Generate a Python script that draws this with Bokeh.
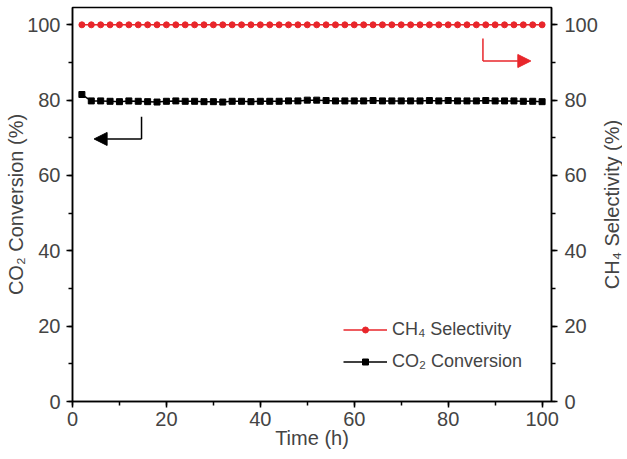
from bokeh.plotting import figure
from bokeh.layouts import row
from bokeh.models import (Range1d, LinearAxis, SingleIntervalTicker, FixedTicker, Arrow, NormalHead,
                          ColumnDataSource, Legend)
from bokeh.embed import file_html
from bokeh.resources import INLINE

# ---- data ----
time_h = [2, 4, 6, 8, 10, 12, 14, 16, 18, 20,
          22, 24, 26, 28, 30, 32, 34, 36, 38, 40,
          42, 44, 46, 48, 50, 52, 54, 56, 58, 60,
          62, 64, 66, 68, 70, 72, 74, 76, 78, 80,
          82, 84, 86, 88, 90, 92, 94, 96, 98, 100]
co2_conversion = [81.5, 79.8, 79.8, 79.7, 79.6, 79.8, 79.7, 79.6, 79.5, 79.7,
                  79.8, 79.7, 79.7, 79.6, 79.6, 79.5, 79.7, 79.7, 79.6, 79.7,
                  79.7, 79.7, 79.8, 79.8, 80.0, 80.0, 79.9, 79.8, 79.8, 79.8,
                  79.8, 79.9, 79.8, 79.8, 79.8, 79.8, 79.8, 79.9, 79.8, 79.9,
                  79.8, 79.8, 79.8, 79.9, 79.8, 79.8, 79.8, 79.7, 79.7, 79.6]
ch4_selectivity = [100.0, 100.0, 100.0, 100.0, 100.0, 100.0, 100.0, 100.0, 100.0, 100.0,
                   100.0, 100.0, 100.0, 100.0, 100.0, 100.0, 100.0, 100.0, 100.0, 100.0,
                   100.0, 100.0, 100.0, 100.0, 100.0, 100.0, 100.0, 100.0, 100.0, 100.0,
                   100.0, 100.0, 100.0, 100.0, 100.0, 100.0, 100.0, 100.0, 100.0, 100.0,
                   100.0, 100.0, 100.0, 100.0, 100.0, 100.0, 100.0, 100.0, 100.0, 100.0]

x_title = "Time (h)"
left_title = "CO\u2082 Conversion (%)"
right_title = "CH\u2084 Selectivity (%)"
series_names = ["CH\u2084 Selectivity", "CO\u2082 Conversion"]

# arrow annotations (data coordinates)
left_arrow_x = [14.7, 4.6]
left_arrow_y = [75.6, 69.7]
right_arrow_x = [87.4, 97.6]
right_arrow_y = [96.4, 90.4]

RED = "#e8262b"
FONT = "Liberation Sans"
X_MAX = 102
Y_MAX = 104.6

p = figure(width=600, height=451, output_backend="svg", toolbar_location=None,
           x_range=Range1d(0, X_MAX), y_range=Range1d(0, Y_MAX),
           min_border_top=7, min_border_left=72, min_border_right=47, min_border_bottom=50)
p.extra_y_ranges = {"right": Range1d(0, Y_MAX)}
p.xgrid.visible = False
p.ygrid.visible = False
p.outline_line_color = "black"
p.outline_line_width = 1.5
p.background_fill_color = "white"
p.border_fill_color = "white"

src = ColumnDataSource(dict(t=time_h, co2=co2_conversion, ch4=ch4_selectivity))

l1 = p.line("t", "ch4", source=src, color=RED, line_width=1.5, y_range_name="right")
s1 = p.scatter("t", "ch4", source=src, marker="circle", size=6, color=RED, y_range_name="right")
l2 = p.line("t", "co2", source=src, color="black", line_width=1.5)
s2 = p.scatter("t", "co2", source=src, marker="square", size=6, color="black")

legend = Legend(items=[(series_names[0], [l1, s1]), (series_names[1], [l2, s2])],
                location=(271, 29), border_line_color=None, background_fill_alpha=0,
                label_text_font=FONT, label_text_font_size="18px", glyph_width=44,
                glyph_height=15, label_height=22, spacing=10, padding=4, label_standoff=5)
p.add_layout(legend)

def style_axis(ax, label, tick_standoff, label_standoff):
    ax.axis_label = label
    ax.axis_label_text_font = FONT
    ax.axis_label_text_font_size = "20px"
    ax.axis_label_text_font_style = "normal"
    ax.major_label_text_font = FONT
    ax.major_label_text_font_size = "20px"
    ax.axis_line_width = 1.5
    ax.major_tick_line_width = 1.5
    ax.minor_tick_line_width = 1.5
    ax.major_tick_out = 6
    ax.major_tick_in = 0
    ax.minor_tick_out = 4
    ax.minor_tick_in = 0
    ax.major_label_standoff = tick_standoff
    ax.axis_label_standoff = label_standoff

p.xaxis.ticker = SingleIntervalTicker(interval=20, num_minor_ticks=2)
p.yaxis.ticker = SingleIntervalTicker(interval=20, num_minor_ticks=2)
style_axis(p.xaxis[0], x_title, 4, -2)
style_axis(p.yaxis[0], left_title, 6, -3)

right_axis = LinearAxis(y_range_name="right", ticker=SingleIntervalTicker(interval=20, num_minor_ticks=2))
style_axis(right_axis, None, 7, 0)
p.add_layout(right_axis, "right")

# arrows
p.add_layout(Arrow(x_start=left_arrow_x[0], y_start=left_arrow_y[0], x_end=left_arrow_x[0], y_end=left_arrow_y[1],
                   line_color="black", line_width=1.5, end=None))
p.add_layout(Arrow(x_start=left_arrow_x[0], y_start=left_arrow_y[1], x_end=left_arrow_x[1], y_end=left_arrow_y[1],
                   line_color="black", line_width=1.5,
                   end=NormalHead(size=13, fill_color="black", line_color="black")))
p.add_layout(Arrow(x_start=right_arrow_x[0], y_start=right_arrow_y[0], x_end=right_arrow_x[0], y_end=right_arrow_y[1],
                   line_color=RED, line_width=1.5, y_range_name="right", end=None))
p.add_layout(Arrow(x_start=right_arrow_x[0], y_start=right_arrow_y[1], x_end=right_arrow_x[1], y_end=right_arrow_y[1],
                   line_color=RED, line_width=1.5, y_range_name="right",
                   end=NormalHead(size=13, fill_color=RED, line_color=RED)))

# narrow companion figure that carries the right-hand axis title (reads bottom-to-top)
p2 = figure(width=19, height=451, output_backend="svg", toolbar_location=None,
            x_range=Range1d(0, 1), y_range=Range1d(0, Y_MAX),
            min_border_top=7, min_border_left=0, min_border_right=0, min_border_bottom=50)
p2.outline_line_color = None
p2.xgrid.visible = False
p2.ygrid.visible = False
p2.xaxis.visible = False
p2.background_fill_color = "white"
p2.border_fill_color = "white"
p2.yaxis.ticker = FixedTicker(ticks=[])
p2.yaxis.axis_line_color = None
p2.yaxis.major_tick_line_color = None
p2.yaxis.minor_tick_line_color = None
p2.yaxis.major_tick_out = 0
p2.yaxis.minor_tick_out = 0
p2.yaxis.major_label_standoff = 0
p2.yaxis.axis_label = right_title
p2.yaxis.axis_label_text_font = FONT
p2.yaxis.axis_label_text_font_size = "20px"
p2.yaxis.axis_label_text_font_style = "normal"
p2.yaxis.axis_label_standoff = -3
p2.line(x=[0, 0], y=[0, 0], line_alpha=0)

layout = row(p, p2)
open("out.html", "w").write(file_html(layout, INLINE))
